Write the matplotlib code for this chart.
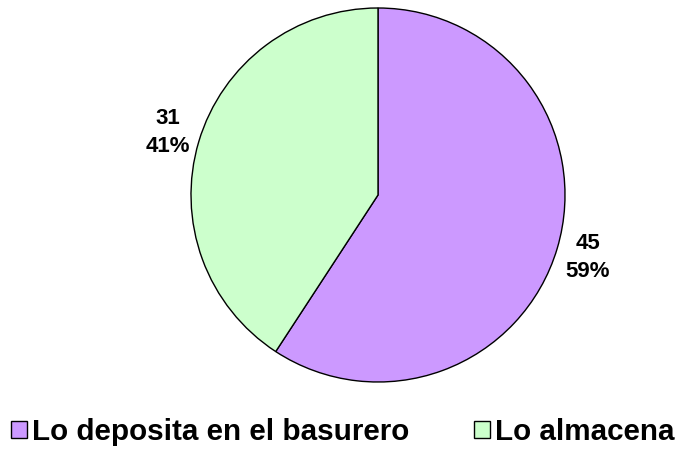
import matplotlib.pyplot as plt
from matplotlib.patches import Patch

categories = ['Lo deposita en el basurero', 'Lo almacena']
values = [45, 31]
colors = ['#CC99FF', '#CCFFCC']

plt.rcParams['font.family'] = ['Liberation Sans', 'DejaVu Sans']

W, H = 678, 453
fig = plt.figure(figsize=(W / 100, H / 100), dpi=100)

cx, cy, r = 378, 195, 187
ax = fig.add_axes([(cx - r) / W, (H - cy - r) / H, 2 * r / W, 2 * r / H])

total = sum(values)
labels = ['%d\n%d%%' % (v, round(100 * v / total)) for v in values]

wedges, texts = ax.pie(values, colors=colors, startangle=90, counterclock=False,
                       labels=labels, labeldistance=1.17,
                       wedgeprops=dict(edgecolor='black', linewidth=1),
                       textprops=dict(fontsize=16, fontweight='bold', linespacing=1.4,
                                      ha='center', va='center'))
for t in texts:
    t.set_horizontalalignment('center')
ax.set_xlim(-1, 1)
ax.set_ylim(-1, 1)
ax.set_aspect('equal')

handles = [Patch(facecolor=c, edgecolor='black', linewidth=1) for c in colors]
fig.legend(handles, categories, loc='center', bbox_to_anchor=(343 / W, 1 - 432 / H),
           ncol=2, frameon=False, prop=dict(size=21.3, weight='bold'),
           handlelength=0.52, handleheight=0.52, handletextpad=0.18,
           columnspacing=2.2, borderpad=0, borderaxespad=0)

fig.savefig('out.png', dpi=100)
